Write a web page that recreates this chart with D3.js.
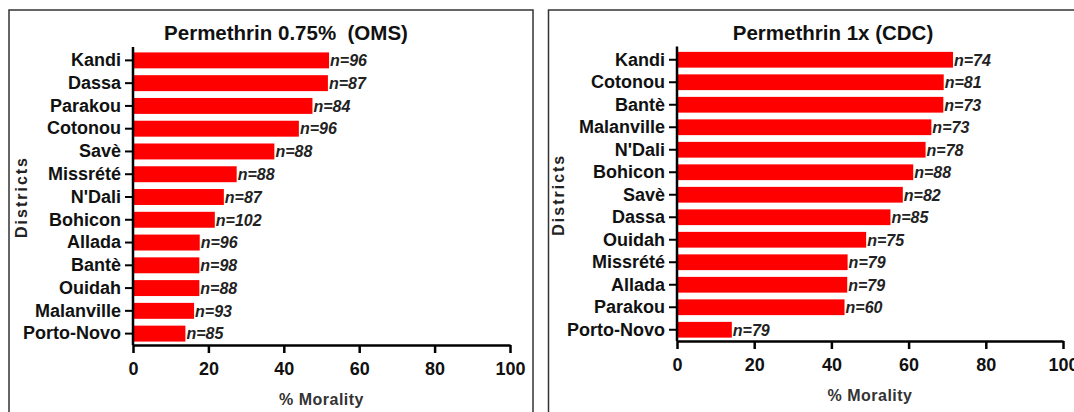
<!DOCTYPE html>
<html>
<head>
<meta charset="utf-8">
<script src="https://cdn.jsdelivr.net/npm/d3@7"></script>
<style>
  html, body { margin: 0; padding: 0; background: #fff; }
  svg { display: block; font-family: "Liberation Sans", Arial, sans-serif; }
  .title { white-space: pre; }
</style>
</head>
<body>
<svg id="chart" width="1074" height="412"></svg>
<script>
// ---- Data ----
const tickValues = [0, 20, 40, 60, 80, 100];

const omsTitle = "Permethrin 0.75%  (OMS)";
const omsDistricts = ["Kandi", "Dassa", "Parakou", "Cotonou", "Savè", "Missrété", "N'Dali", "Bohicon", "Allada", "Bantè", "Ouidah", "Malanville", "Porto-Novo"];
const omsMortality = [52.0, 51.7, 47.6, 44.0, 37.5, 27.5, 24.1, 21.7, 17.7, 17.6, 17.6, 16.2, 13.9];
const omsN = [96, 87, 84, 96, 88, 88, 87, 102, 96, 98, 88, 93, 85];

const cdcTitle = "Permethrin 1x (CDC)";
const cdcDistricts = ["Kandi", "Cotonou", "Bantè", "Malanville", "N'Dali", "Bohicon", "Savè", "Dassa", "Ouidah", "Missrété", "Allada", "Parakou", "Porto-Novo"];
const cdcMortality = [71.5, 69.1, 69.0, 65.9, 64.4, 61.2, 58.5, 55.3, 49.0, 44.2, 44.1, 43.4, 14.2];
const cdcN = [74, 81, 73, 73, 78, 88, 82, 85, 75, 79, 79, 60, 79];

const xLabel = "% Morality";
const yLabel = "Districts";

// ---- Drawing ----
const svg = d3.select("#chart");

function drawPanel(cfg) {
  const g = svg.append("g");
  // frame
  g.append("rect")
    .attr("x", cfg.frame[0]).attr("y", cfg.frame[1])
    .attr("width", cfg.frame[2]).attr("height", cfg.frame[3])
    .attr("fill", "none").attr("stroke", "#333").attr("stroke-width", 1.5);

  const x = d3.scaleLinear().domain([0, 100]).range(cfg.xRange);
  const y = d3.scaleBand().domain(cfg.districts).range(cfg.yRange)
    .paddingInner(0.3).paddingOuter(0.15);
  const data = cfg.districts.map((d, i) => ({ d, v: cfg.values[i], n: cfg.n[i] }));

  // bars
  g.selectAll("rect.bar").data(data).enter().append("rect")
    .attr("class", "bar")
    .attr("x", x(0))
    .attr("y", d => y(d.d))
    .attr("width", d => x(d.v) - x(0))
    .attr("height", y.bandwidth())
    .attr("fill", "#ff0000");

  // n labels
  g.selectAll("text.n").data(data).enter().append("text")
    .attr("class", "n")
    .attr("x", d => x(d.v) + 1)
    .attr("y", d => y(d.d) + y.bandwidth() / 2)
    .attr("dy", "0.36em")
    .attr("font-size", 16).attr("font-style", "italic").attr("font-weight", "bold")
    .attr("fill", "#222")
    .text(d => "n=" + d.n);

  const yBottom = cfg.yRange[1];
  // y axis
  const ya = g.append("g").attr("transform", `translate(${x(0)},0)`)
    .call(d3.axisLeft(y).tickSize(8).tickSizeOuter(0).tickPadding(4));
  ya.select(".domain").remove();
  ya.selectAll(".tick line").attr("stroke", "#000").attr("stroke-width", 2);
  ya.selectAll(".tick text").attr("font-size", 18).attr("font-weight", "bold")
    .attr("fill", "#111").attr("font-family", "Liberation Sans, Arial, sans-serif");
  g.append("line")
    .attr("x1", x(0)).attr("x2", x(0))
    .attr("y1", cfg.yRange[0] - 2).attr("y2", yBottom)
    .attr("stroke", "#000").attr("stroke-width", 2.5);

  // x axis
  const xa = g.append("g").attr("transform", `translate(0,${yBottom})`)
    .call(d3.axisBottom(x).tickValues(tickValues).tickSize(8).tickSizeOuter(0).tickPadding(9));
  xa.select(".domain").attr("stroke", "#000").attr("stroke-width", 2.5);
  xa.selectAll(".tick line").attr("stroke", "#000").attr("stroke-width", 2.5);
  xa.selectAll(".tick text").attr("font-size", 18).attr("font-weight", "bold")
    .attr("fill", "#111").attr("font-family", "Liberation Sans, Arial, sans-serif");

  // title
  g.append("text")
    .attr("class", "title")
    .attr("x", cfg.titleX).attr("y", 40)
    .attr("text-anchor", "middle")
    .attr("font-size", 20.5).attr("font-weight", "bold").attr("fill", "#111")
    .text(cfg.title);

  // axis titles
  g.append("text")
    .attr("transform", `translate(${cfg.yLabelX},${(cfg.yRange[0] + yBottom) / 2}) rotate(-90)`)
    .attr("text-anchor", "middle")
    .attr("font-size", 16).attr("font-weight", "bold").attr("letter-spacing", 2)
    .attr("fill", "#222")
    .text(yLabel);

  g.append("text")
    .attr("x", (cfg.xRange[0] + cfg.xRange[1]) / 2).attr("y", cfg.xLabelY)
    .attr("text-anchor", "middle")
    .attr("font-size", 16).attr("font-weight", "bold").attr("letter-spacing", 0.5)
    .attr("fill", "#333")
    .text(xLabel);
}

drawPanel({
  frame: [9, 10, 524, 420],
  xRange: [133, 510], yRange: [49, 345],
  districts: omsDistricts, values: omsMortality, n: omsN,
  title: omsTitle, titleX: 286, yLabelX: 27, xLabelY: 405
});

drawPanel({
  frame: [548.5, 10, 540, 420],
  xRange: [677, 1063], yRange: [48.5, 341],
  districts: cdcDistricts, values: cdcMortality, n: cdcN,
  title: cdcTitle, titleX: 833, yLabelX: 564, xLabelY: 401
});
</script>
</body>
</html>
